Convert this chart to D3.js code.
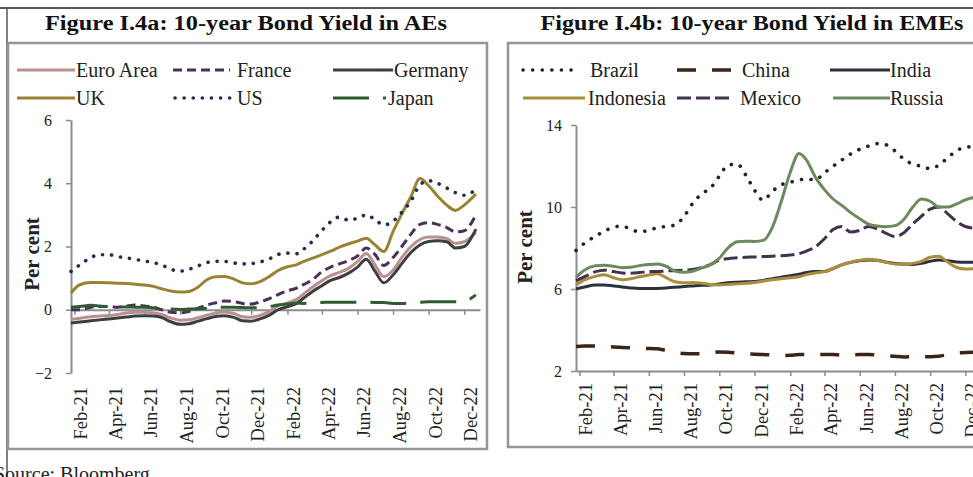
<!DOCTYPE html>
<html>
<head>
<meta charset="utf-8">
<script src="https://cdn.jsdelivr.net/npm/d3@7"></script>
<style>
  body { margin: 0; background: #fff; overflow: hidden; }
  svg { display: block; font-family: "Liberation Serif", "Times New Roman", serif; }
</style>
</head>
<body>
<svg id="chart" width="973" height="477"></svg>
<script>
// half-monthly observations
const dates = ["2021-01-26", "2021-02-10", "2021-03-01", "2021-03-16", "2021-04-01", "2021-04-16", "2021-05-01", "2021-05-16",
  "2021-06-01", "2021-06-16", "2021-07-01", "2021-07-16", "2021-08-01", "2021-08-16", "2021-09-01", "2021-09-16",
  "2021-10-01", "2021-10-16", "2021-11-01", "2021-11-16", "2021-12-01", "2021-12-16", "2022-01-01", "2022-01-16",
  "2022-02-01", "2022-02-16", "2022-03-01", "2022-03-16", "2022-04-01", "2022-04-16", "2022-05-01", "2022-05-16",
  "2022-06-01", "2022-06-16", "2022-07-01", "2022-07-16", "2022-08-01", "2022-08-16", "2022-09-01", "2022-09-16",
  "2022-10-01", "2022-10-16", "2022-11-01", "2022-11-16", "2022-12-01", "2022-12-21"]

const monthLabels = ["Feb-21", "Apr-21", "Jun-21", "Aug-21", "Oct-21", "Dec-21", "Feb-22", "Apr-22", "Jun-22", "Aug-22", "Oct-22", "Dec-22"]

// Figure I.4a - advanced economies
const euroArea = [-0.3, -0.27, -0.22, -0.2, -0.18, -0.15, -0.1, -0.08, -0.08, -0.1, -0.15, -0.26, -0.33, -0.32, -0.25, -0.17,
  -0.1, -0.07, -0.12, -0.22, -0.24, -0.18, -0.05, 0.12, 0.22, 0.32, 0.5, 0.72, 0.92, 1.08, 1.18, 1.3,
  1.52, 1.78, 1.42, 1.05, 1.25, 1.65, 2.0, 2.22, 2.3, 2.3, 2.25, 2.1, 2.15, 2.45]
const france = [0.0, 0.0, 0.08, 0.1, 0.1, 0.08, 0.12, 0.15, 0.12, 0.08, 0.0, -0.08, -0.1, -0.06, 0.05, 0.15,
  0.22, 0.28, 0.26, 0.2, 0.18, 0.25, 0.35, 0.48, 0.6, 0.68, 0.8, 0.95, 1.2, 1.35, 1.45, 1.55,
  1.7, 1.95, 1.75, 1.4, 1.65, 2.0, 2.4, 2.7, 2.75, 2.7, 2.6, 2.46, 2.5, 3.0]
const germany = [-0.42, -0.39, -0.35, -0.32, -0.29, -0.26, -0.23, -0.2, -0.19, -0.2, -0.25, -0.38, -0.46, -0.44, -0.36, -0.28,
  -0.21, -0.19, -0.24, -0.35, -0.36, -0.29, -0.17, 0.0, 0.1, 0.19, 0.37, 0.58, 0.76, 0.93, 1.02, 1.15,
  1.35, 1.6, 1.22, 0.85, 1.1, 1.46, 1.82, 2.05, 2.16, 2.18, 2.15, 1.95, 2.0, 2.55]
const uk = [0.53, 0.79, 0.86, 0.86, 0.85, 0.84, 0.83, 0.81, 0.78, 0.74, 0.66, 0.59, 0.56, 0.58, 0.72, 0.95,
  1.04, 1.05, 0.97, 0.85, 0.82, 0.89, 1.05, 1.24, 1.36, 1.42, 1.53, 1.63, 1.74, 1.85, 1.98, 2.08,
  2.17, 2.26, 2.05, 1.84, 2.47, 3.03, 3.59, 4.15, 3.92, 3.6, 3.31, 3.14, 3.31, 3.66]
const us = [1.21, 1.42, 1.65, 1.74, 1.74, 1.68, 1.64, 1.59, 1.54, 1.49, 1.41, 1.28, 1.22, 1.28, 1.39, 1.49,
  1.53, 1.53, 1.48, 1.45, 1.46, 1.51, 1.61, 1.75, 1.79, 1.77, 1.92, 2.17, 2.51, 2.78, 2.93, 2.84,
  2.89, 3.0, 2.85, 2.68, 2.8, 3.08, 3.45, 3.95, 4.08, 4.0, 3.85, 3.7, 3.62, 3.8]
const japan = [0.08, 0.1, 0.14, 0.12, 0.1, 0.09, 0.09, 0.08, 0.08, 0.06, 0.04, 0.02, 0.01, 0.02, 0.03, 0.05,
  0.07, 0.08, 0.08, 0.07, 0.06, 0.06, 0.1, 0.15, 0.18, 0.21, 0.2, 0.22, 0.23, 0.24, 0.24, 0.24,
  0.24, 0.24, 0.23, 0.23, 0.2, 0.2, 0.22, 0.24, 0.25, 0.25, 0.25, 0.25, 0.27, 0.47]

// Figure I.4b - emerging market economies
const brazil = [7.88, 8.24, 8.58, 8.82, 9.02, 9.07, 8.9, 8.79, 8.86, 9.0, 9.05, 9.12, 9.54, 10.18, 10.65, 10.93,
  11.5, 12.04, 12.09, 11.55, 10.82, 10.33, 10.77, 11.08, 11.21, 11.31, 11.37, 11.32, 11.67, 11.99, 12.29, 12.58,
  12.81, 12.97, 13.09, 13.04, 12.74, 12.35, 12.09, 11.99, 11.87, 12.04, 12.42, 12.75, 12.92, 12.95]
const china = [3.2, 3.22, 3.22, 3.2, 3.17, 3.15, 3.13, 3.11, 3.1, 3.08, 3.0, 2.9, 2.85, 2.84, 2.85, 2.88,
  2.93, 2.92, 2.88, 2.84, 2.82, 2.8, 2.78, 2.76, 2.77, 2.8, 2.8, 2.8, 2.8, 2.8, 2.78, 2.78,
  2.8, 2.8, 2.78, 2.75, 2.72, 2.68, 2.7, 2.7, 2.7, 2.72, 2.8, 2.88, 2.9, 2.92]
const india = [6.0, 6.1, 6.2, 6.2, 6.15, 6.1, 6.05, 6.02, 6.02, 6.03, 6.05, 6.08, 6.12, 6.15, 6.18, 6.2,
  6.25, 6.3, 6.33, 6.35, 6.36, 6.42, 6.5, 6.58, 6.65, 6.72, 6.8, 6.85, 6.85, 7.0, 7.18, 7.3,
  7.38, 7.42, 7.4, 7.32, 7.25, 7.22, 7.2, 7.25, 7.35, 7.42, 7.38, 7.32, 7.3, 7.3]
const indonesia = [6.2, 6.45, 6.62, 6.7, 6.55, 6.45, 6.5, 6.6, 6.68, 6.75, 6.55, 6.35, 6.3, 6.32, 6.28, 6.22,
  6.2, 6.22, 6.25, 6.28, 6.32, 6.38, 6.45, 6.5, 6.55, 6.6, 6.7, 6.78, 6.85, 7.0, 7.18, 7.3,
  7.4, 7.45, 7.4, 7.3, 7.22, 7.2, 7.25, 7.35, 7.55, 7.6, 7.3, 7.05, 6.98, 7.0]
const mexico = [6.4, 6.6, 6.85, 6.92, 6.85, 6.78, 6.77, 6.8, 6.85, 6.85, 6.88, 6.9, 6.92, 6.95, 7.05, 7.2,
  7.4, 7.48, 7.52, 7.55, 7.56, 7.58, 7.6, 7.62, 7.66, 7.72, 7.85, 8.05, 8.45, 8.9, 9.05, 8.78,
  8.86, 9.05, 8.94, 8.73, 8.56, 8.73, 9.18, 9.55, 9.9, 10.0, 9.65, 9.3, 9.05, 8.95]
const russia = [6.57, 6.93, 7.13, 7.16, 7.11, 7.04, 7.06, 7.14, 7.19, 7.22, 7.11, 6.88, 6.82, 6.87, 7.03, 7.19,
  7.5, 8.0, 8.3, 8.33, 8.32, 8.37, 9.02, 10.24, 11.71, 12.61, 12.29, 11.47, 10.85, 10.39, 10.08, 9.74,
  9.43, 9.17, 9.07, 9.04, 9.09, 9.38, 10.0, 10.39, 10.28, 10.0, 10.0, 10.15, 10.35, 10.5]

const parseDay = d3.timeParse("%Y-%m-%d")
const parseMonth = d3.timeParse("%b-%y")
const days = dates.map(parseDay)
const xDomain = [parseDay("2021-01-26"), parseDay("2022-12-28")]

// line styles and legend slots
const aeSeries = [
  { name: "Euro Area", values: euroArea, color: "#b89090", dash: null, width: 3, lx: [17, 75], tx: 76, row: 0 },
  { name: "France", values: france, color: "#4d2f5c", dash: "9,5", width: 3, lx: [173, 230], tx: 237, row: 0 },
  { name: "Germany", values: germany, color: "#3e3e3e", dash: null, width: 3, lx: [333, 393], tx: 394, row: 0 },
  { name: "UK", values: uk, color: "#9a8234", dash: null, width: 3, lx: [17, 75], tx: 76, row: 1 },
  { name: "US", values: us, color: "#1f2d52", dash: "0.1,9", width: 3.6, lx: [175, 230], tx: 237, row: 1 },
  { name: "Japan", values: japan, color: "#2f5c2f", dash: "36,14", width: 3, lx: [333, 386], tx: 388, row: 1 }
]
const emeSeries = [
  { name: "Brazil", values: brazil, color: "#222222", dash: "0.1,9.5", width: 3.6, lx: [523, 579], tx: 590, row: 0 },
  { name: "China", values: china, color: "#3c2419", dash: "19,16", width: 3.5, lx: [677, 733], tx: 742, row: 0 },
  { name: "India", values: india, color: "#2c3140", dash: null, width: 3, lx: [830, 890], tx: 890, row: 0 },
  { name: "Indonesia", values: indonesia, color: "#a98e3c", dash: null, width: 3, lx: [523, 585], tx: 588, row: 1 },
  { name: "Mexico", values: mexico, color: "#46304f", dash: "14,5", width: 3, lx: [677, 733], tx: 740, row: 1 },
  { name: "Russia", values: russia, color: "#6b8a5e", dash: null, width: 3, lx: [833, 890], tx: 890, row: 1 }
]

const panels = [
  { title: "Figure I.4a: 10-year Bond Yield in AEs", titleX: 246, titleLen: 402, box: [8, 43, 479, 406],
    left: 71, right: 480, top: 120, bottom: 373, yDomain: [-2, 6], yTicks: [-2, 0, 2, 4, 6], crossAt: 0,
    labelTop: 387, tickPad: 14, perCent: [32, 254], series: aeSeries },
  { title: "Figure I.4b: 10-year Bond Yield in EMEs", titleX: 752, titleLen: 423, box: [508, 43, 480, 404],
    left: 576, right: 981, top: 125, bottom: 371, yDomain: [2, 14], yTicks: [2, 6, 10, 14], crossAt: 2,
    labelTop: 383, tickPad: 9, perCent: [525, 247], series: emeSeries }
]

const svg = d3.select("#chart")
const axisColor = "#8c8c8c"

// outer frame
svg.append("line").attr("x1", 0).attr("x2", 973).attr("y1", 8).attr("y2", 8)
  .attr("stroke", "#555").attr("stroke-width", 2)
svg.append("line").attr("x1", 7).attr("x2", 7).attr("y1", 8).attr("y2", 477)
  .attr("stroke", "#555").attr("stroke-width", 1.5)

const drawPanel = p => {
  const g = svg.append("g")

  g.append("rect")
    .attr("x", p.box[0]).attr("y", p.box[1]).attr("width", p.box[2]).attr("height", p.box[3])
    .attr("fill", "none").attr("stroke", "#959595").attr("stroke-width", 2.5)

  g.append("text")
    .attr("x", p.titleX).attr("y", 30)
    .attr("text-anchor", "middle")
    .attr("font-weight", "bold").attr("font-size", 20)
    .attr("textLength", p.titleLen).attr("lengthAdjust", "spacingAndGlyphs")
    .attr("fill", "#111")
    .text(p.title)

  const x = d3.scaleTime().domain(xDomain).range([p.left, p.right])
  const y = d3.scaleLinear().domain(p.yDomain).range([p.bottom, p.top])
  const tickDates = monthLabels.map(parseMonth)

  // y axis
  const yAxis = g.append("g")
    .attr("transform", `translate(${p.left},0)`)
    .call(d3.axisLeft(y).tickValues(p.yTicks).tickSize(5).tickPadding(p.tickPad).tickSizeOuter(0))
  yAxis.select(".domain").attr("stroke", axisColor).attr("stroke-width", 2)
  yAxis.selectAll(".tick line").attr("stroke", axisColor).attr("stroke-width", 1.5)
  yAxis.selectAll(".tick text").attr("font-size", 16).attr("font-family", "Liberation Serif").attr("fill", "#222")

  // x axis crossing
  const xAxis = g.append("g")
    .attr("transform", `translate(0,${y(p.crossAt)})`)
    .call(d3.axisBottom(x).tickValues(tickDates).tickSize(5).tickSizeOuter(0).tickFormat(""))
  xAxis.select(".domain").attr("stroke", axisColor).attr("stroke-width", 2)
  xAxis.selectAll(".tick line").attr("stroke", axisColor).attr("stroke-width", 1.5)

  // month labels sit below the plot
  const xLabels = g.append("g")
    .attr("transform", `translate(0,${p.labelTop})`)
    .call(d3.axisBottom(x).tickValues(tickDates).tickSize(0).tickFormat((d, i) => monthLabels[i]))
  xLabels.select(".domain").remove()
  xLabels.selectAll(".tick text")
    .attr("transform", "rotate(-90)")
    .attr("x", 0).attr("y", 6).attr("dy", "0.35em")
    .attr("text-anchor", "end")
    .attr("font-size", 18.5).attr("font-family", "Liberation Serif").attr("fill", "#222")

  g.append("text")
    .attr("transform", `translate(${p.perCent[0]},${p.perCent[1]}) rotate(-90)`)
    .attr("text-anchor", "middle").attr("dy", "0.35em")
    .attr("font-weight", "bold").attr("font-size", 21).attr("fill", "#222")
    .text("Per cent")

  const line = d3.line()
    .x((d, i) => x(days[i]))
    .y(d => y(d))
    .curve(d3.curveMonotoneX)

  g.selectAll(".series")
    .data(p.series)
    .enter()
    .append("path")
    .classed("series", true)
    .attr("d", s => line(s.values))
    .attr("fill", "none")
    .attr("stroke", s => s.color)
    .attr("stroke-width", s => s.width)
    .attr("stroke-dasharray", s => s.dash)
    .attr("stroke-linecap", s => s.dash && s.dash.startsWith("0.1") ? "round" : "butt")
    .attr("stroke-linejoin", "round")

  // legend
  const rows = [70, 98]
  const legend = g.selectAll(".legendItem")
    .data(p.series)
    .enter()
    .append("g")
    .classed("legendItem", true)
  legend.append("line")
    .attr("x1", s => s.lx[0]).attr("x2", s => s.lx[1])
    .attr("y1", s => rows[s.row]).attr("y2", s => rows[s.row])
    .attr("stroke", s => s.color)
    .attr("stroke-width", s => s.width)
    .attr("stroke-dasharray", s => s.dash)
    .attr("stroke-linecap", s => s.dash && s.dash.startsWith("0.1") ? "round" : "butt")
  legend.append("text")
    .attr("x", s => s.tx).attr("y", s => rows[s.row]).attr("dy", "0.35em")
    .attr("font-size", 20).attr("fill", "#222")
    .text(s => s.name)
}

panels.forEach(drawPanel)

svg.append("text")
  .attr("x", -6).attr("y", 481)
  .attr("font-size", 20).attr("fill", "#222")
  .text("Source: Bloomberg")
</script>
</body>
</html>
